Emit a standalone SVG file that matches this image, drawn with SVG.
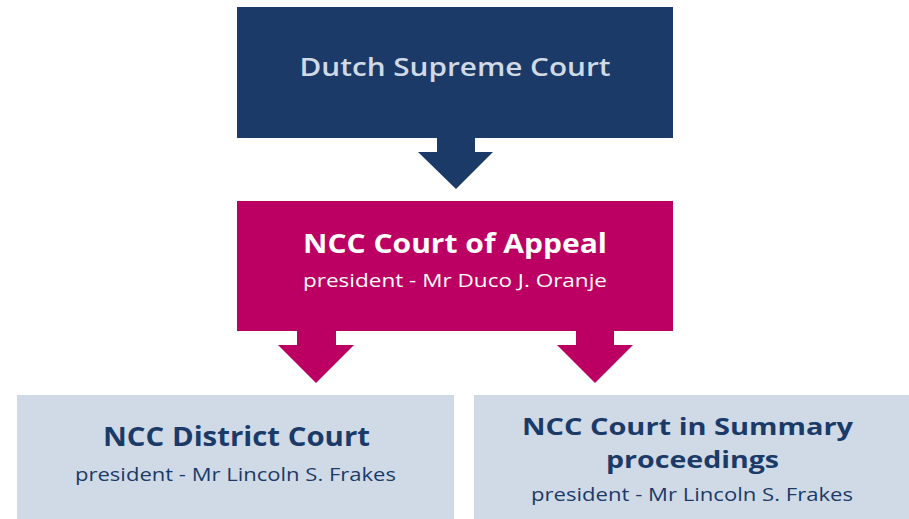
<svg xmlns="http://www.w3.org/2000/svg" width="909" height="519" viewBox="0 0 909 519">
<style>
text{font-family:"Open Sans",Lato,"Liberation Sans",sans-serif;text-anchor:middle}
.t{font-weight:bold;font-size:26px}
.t2{font-weight:bold;font-size:24px}
.s{font-size:19px}
.navy{fill:#1b3a68}
.mag{fill:#bc0063}
.lb{fill:#d0dae6}
</style>
<rect width="909" height="519" fill="#ffffff"/>
<g id="connectors">
<polygon class="navy" points="437,137 475,137 475,152 493,152 456,189 418,152 437,152"/>
<polygon class="mag" points="297,330 336,330 336,345 354,345 316,383 278,345 297,345"/>
<polygon class="mag" points="576,330 614,330 614,345 633,345 595,383 557,345 576,345"/>
</g>
<g id="supreme">
<rect class="navy" x="237" y="7" width="436" height="131"/>
<text class="t" x="455" y="76" fill="#d0dae6" style="font-weight:600" textLength="311" lengthAdjust="spacingAndGlyphs">Dutch Supreme Court</text>
</g>
<g id="appeal">
<rect class="mag" x="237" y="201" width="436" height="130"/>
<text class="t" x="455" y="253" fill="#ffffff" textLength="304" lengthAdjust="spacingAndGlyphs">NCC Court of Appeal</text>
<text class="s" x="455" y="287" fill="#ffffff" textLength="304" lengthAdjust="spacingAndGlyphs">president - Mr Duco J. Oranje</text>
</g>
<g id="district">
<rect class="lb" x="17" y="395" width="437" height="124"/>
<text class="t" x="236.5" y="446" fill="#1b3a68" textLength="267" lengthAdjust="spacingAndGlyphs">NCC District Court</text>
<text class="s" x="235.5" y="481" fill="#1b3a68" textLength="321" lengthAdjust="spacingAndGlyphs">president - Mr Lincoln S. Frakes</text>
</g>
<g id="summary">
<rect class="lb" x="474" y="395" width="435" height="124"/>
<text class="t2" x="687.5" y="435" fill="#1b3a68" textLength="331" lengthAdjust="spacingAndGlyphs">NCC Court in Summary</text>
<text class="t2" x="692.5" y="468" fill="#1b3a68" textLength="173" lengthAdjust="spacingAndGlyphs">proceedings</text>
<text class="s" x="692" y="501" fill="#1b3a68" textLength="322" lengthAdjust="spacingAndGlyphs">president - Mr Lincoln S. Frakes</text>
</g>
</svg>
